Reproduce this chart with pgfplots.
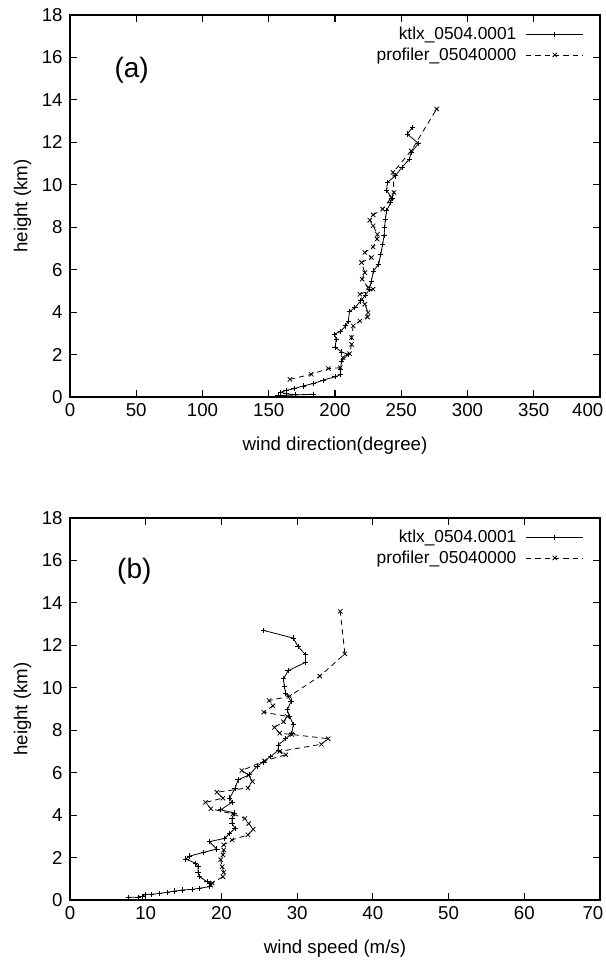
\documentclass[border=0pt]{standalone}
\usepackage{fontspec}
\setmainfont{Liberation Sans}
\usepackage{pgfplots}
\pgfplotsset{compat=1.18}

\pgfplotsset{
  gp/.style={
    scale only axis, width=397.5pt, height=286.5pt,
    ymin=0, ymax=18, ytick={0,2,...,18},
    axis line style={line width=0.9pt},
    major tick length=5pt,
    tick style={black, line width=0.8pt},
    font=\fontsize{14}{16}\selectfont,
    /pgf/number format/assume math mode=true,
    yticklabel style={xshift=-2pt},
    xticklabel style={yshift=-1pt},
    ylabel={height (km)},
    ylabel style={yshift=1pt},
    xlabel style={yshift=-9pt},
    extra x tick style={xticklabel style={anchor=north east, xshift=6pt}},
    legend style={draw=none, fill=none, at={(0.97,0.976)}, anchor=north east,
      font=\fontsize{13}{15}\selectfont, row sep=0.5pt, column sep=5pt, inner sep=0pt},
    legend plot pos=right, legend cell align=right,
    legend image code/.code={%
      \draw[#1, mark repeat=2, mark phase=2] plot coordinates {(0pt,0pt) (21.5pt,0pt) (43pt,0pt)};},
  },
  ktlx/.style={black, line width=0.6pt, mark=+, mark size=2pt, mark options={solid}},
  prof/.style={black, line width=0.6pt, dash pattern=on 4pt off 3pt, mark=x, mark size=2.3pt, mark options={solid}},
}

\begin{document}
\begin{tikzpicture}
\path[use as bounding box] (0,0) rectangle (454.5pt,720pt);
% --- panel (a) wind direction ---
\begin{axis}[gp, at={(52.5pt,422.25pt)}, anchor=south west,
    xmin=0, xmax=400, xtick={0,50,...,350}, extra x ticks={400},
    xlabel={wind direction(degree)}]
\addplot[ktlx] coordinates {
  (157,0.06) (184,0.13) (170,0.10) (163,0.16) (159,0.22) (163,0.31) (169,0.39)
  (176,0.52) (184,0.64) (191,0.79) (200,0.95) (204,1.05) (204,1.3) (205,1.7)
  (210,2.01) (205,2.12) (200,2.36) (201,2.72) (199.5,2.96) (204,3.08) (208,3.35)
  (210,3.58) (211,4.03) (215,4.21) (219.5,4.53) (223,4.8) (226,5.08) (227.5,5.47)
  (229,5.94) (233,6.26) (234.5,6.73) (236,7.2) (237,7.6) (237.5,8.0) (238,8.38)
  (239,8.77) (242,9.17) (243,9.37) (239,9.72) (239.5,10.11) (245.5,10.42)
  (250.5,10.82) (256,11.2) (257.5,11.52) (263,11.95) (254.5,12.39) (258.5,12.7)};
\addlegendentry{ktlx\_0504.0001}
\addplot[prof] coordinates {
  (166,0.83) (182,1.07) (195,1.34) (204,1.38) (206,1.86) (211,2.04) (212.5,2.48)
  (212.5,2.8) (213.75,3.35) (218.75,3.58) (224.5,3.77) (225,3.98) (222.5,4.37)
  (218.75,4.84) (228.75,5.08) (225,5.16) (220.5,5.55) (222.5,5.86) (220,6.34)
  (227.5,6.57) (222.5,6.81) (228.75,7.07) (231.75,7.44) (232,7.67) (228.75,8.07)
  (226.25,8.33) (228.75,8.58) (236,8.85) (242.5,9.4) (244.5,9.64) (243.75,10.58)
  (257.5,11.6) (276.75,13.57)};
\addlegendentry{profiler\_05040000}
\node[font=\fontsize{21}{24}\selectfont] at (axis cs:46.5,15.4) {(a)};
\end{axis}
% --- panel (b) wind speed ---
\begin{axis}[gp, at={(52.5pt,45pt)}, anchor=south west,
    xmin=0, xmax=70, xtick={0,10,...,60}, extra x ticks={70},
    xlabel={wind speed (m/s)}]
\addplot[ktlx] coordinates {
  (7.7,0.13) (9.0,0.13) (9.5,0.17) (10.0,0.27) (10.8,0.27) (11.8,0.31) (12.8,0.36)
  (13.8,0.42) (14.8,0.47) (16.1,0.5) (17.1,0.55) (18.4,0.63) (18.6,0.79) (18.1,0.86)
  (17.1,1.1) (16.9,1.3) (16.9,1.57) (16.6,1.73) (15.3,1.93) (15.8,2.07) (17.6,2.24)
  (19.4,2.4) (18.4,2.75) (20.4,2.9) (21.1,3.14) (21.8,3.38) (21.4,3.6) (21.4,3.85)
  (21.7,4.1) (19.9,4.25) (21.4,4.6) (21.1,4.8) (21.8,5.27) (22.2,5.66) (23.7,5.9)
  (24.7,6.3) (25.5,6.5) (26.5,6.76) (27.5,7.05) (27.5,7.3) (28.5,7.6) (29.3,7.86)
  (29.5,8.26) (29.0,8.65) (28.7,8.96) (29.2,9.36) (28.5,9.75) (28.3,10.06)
  (28.2,10.42) (28.8,10.8) (31.1,11.2) (31.1,11.56) (30.1,11.95) (29.5,12.34)
  (25.6,12.7)};
\addlegendentry{ktlx\_0504.0001}
\addplot[prof] coordinates {
  (18.6,0.7) (18.8,0.8) (20.2,1.1) (20.3,1.3) (20.1,1.57) (19.9,1.9) (20.2,2.12)
  (20.3,2.36) (20.3,2.6) (21.4,2.83) (23.5,3.07) (24.2,3.33) (23.6,3.6) (23.1,3.84)
  (21.5,4.05) (18.6,4.3) (17.9,4.6) (20.2,4.8) (19.4,5.08) (23.5,5.28) (24.1,5.58)
  (23.6,5.88) (22.7,6.1) (25.7,6.56) (28.5,6.84) (27.7,7.0) (33.2,7.34) (34.1,7.6)
  (29.3,7.8) (27.7,7.86) (27.0,8.13) (28.2,8.4) (28.7,8.65) (25.6,8.85) (26.8,9.15)
  (26.3,9.4) (29.0,9.6) (33.0,10.55) (36.3,11.6) (35.7,13.6)};
\addlegendentry{profiler\_05040000}
\node[font=\fontsize{21}{24}\selectfont] at (axis cs:8.5,15.5) {(b)};
\end{axis}
\end{tikzpicture}
\end{document}
